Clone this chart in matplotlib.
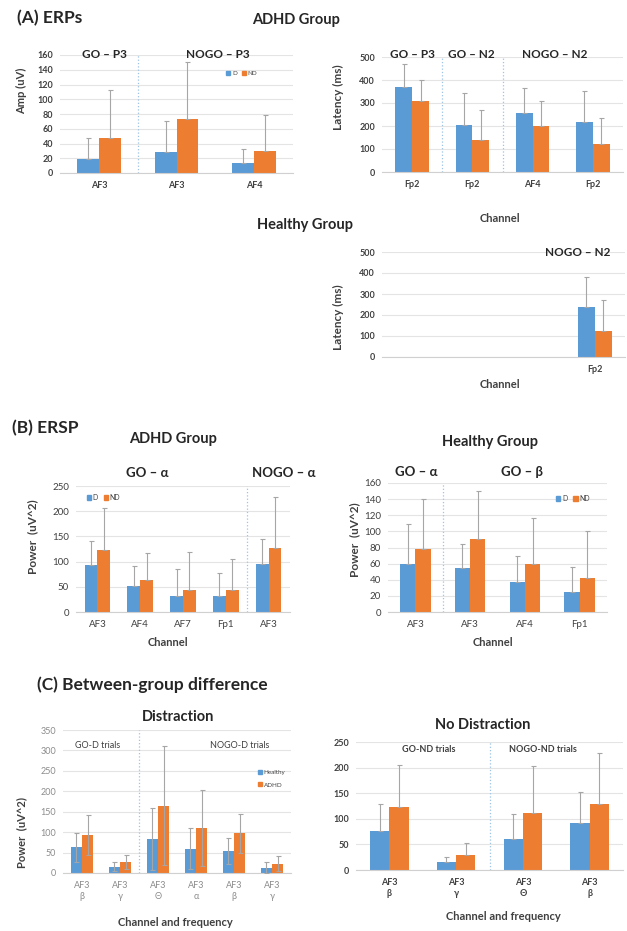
import numpy as np
import matplotlib.pyplot as plt
from matplotlib.patches import Patch

plt.rcParams['font.family'] = ['Lato', 'DejaVu Sans']

W, H = 627, 931
BLUE = "#5B9BD5"
ORANGE = "#ED7D31"
ERR = "#A6A6A6"
GRID = "#E4E4E4"
DOT = "#9DC3E6"
TXT = "#404040"

# ---- (A) ERPs, ADHD group: amplitude
amp_labels = ["AF3", "AF3", "AF4"]
amp_d = [19, 29, 13]
amp_nd = [48, 73, 30]
amp_d_err = [29, 41, 19]
amp_nd_err = [65, 77, 48]

# ---- (A) ERPs, ADHD group: latency
lat_labels = ["Fp2", "Fp2", "AF4", "Fp2"]
lat_d = [370, 205, 258, 216]
lat_nd = [310, 137, 199, 121]
lat_d_err = [100, 140, 107, 136]
lat_nd_err = [90, 133, 111, 114]

# ---- (A) ERPs, healthy group: latency (only the 4th slot is filled)
hl_labels = ["", "", "", "Fp2"]
hl_d = [0, 0, 0, 238]
hl_nd = [0, 0, 0, 122]
hl_d_err = [0, 0, 0, 142]
hl_nd_err = [0, 0, 0, 148]

# ---- (B) ERSP, ADHD group
ba_labels = ["AF3", "AF4", "AF7", "Fp1", "AF3"]
ba_d = [94, 52, 32, 32, 96]
ba_nd = [123, 63, 44, 44, 126]
ba_d_err = [46, 40, 53, 45, 49]
ba_nd_err = [83, 54, 75, 61, 102]

# ---- (B) ERSP, healthy group
bh_labels = ["AF3", "AF3", "AF4", "Fp1"]
bh_d = [59, 54, 37, 25]
bh_nd = [78, 90, 60, 42]
bh_d_err = [50, 30, 32, 31]
bh_nd_err = [62, 60, 56, 59]

# ---- (C) Between-group, distraction
cd_labels = ["AF3\nβ", "AF3\nγ", "AF3\nΘ", "AF3\nα", "AF3\nβ", "AF3\nγ"]
cd_h = [63, 15, 83, 59, 53, 13]
cd_a = [94, 27, 165, 111, 97, 23]
cd_h_err = [36, 11, 76, 50, 32, 14]
cd_a_err = [49, 18, 146, 93, 47, 18]

# ---- (C) Between-group, no distraction
cn_labels = ["AF3\nβ", "AF3\nγ", "AF3\nΘ", "AF3\nβ"]
cn_h = [77, 16, 60, 92]
cn_a = [123, 29, 112, 129]
cn_h_err = [52, 10, 50, 61]
cn_a_err = [83, 23, 91, 100]

fig = plt.figure(figsize=(W / 100, H / 100), dpi=100)


def ax_at(l, t, r, b):
    return fig.add_axes([l / W, 1 - b / H, (r - l) / W, (b - t) / H])


def ftext(x, y, s, ha="center", **kw):
    fig.text(x / W, 1 - y / H, s, ha=ha, va="center", **kw)


def bars(ax, labels, v1, v2, e1, e2, ymax, step, both=False, width=0.28,
         tick_size=6.5, tick_color=TXT, ybold=True, xbold=True, seps=()):
    x = np.arange(len(labels))
    for xs, v, e, c in [(x - width / 2, v1, e1, BLUE), (x + width / 2, v2, e2, ORANGE)]:
        ax.bar(xs, v, width, color=c, zorder=2)
        lower = e if both else [0] * len(e)
        keep = [i for i in range(len(v)) if v[i] > 0]
        ax.errorbar(xs[keep], np.array(v)[keep],
                    yerr=[np.array(lower)[keep], np.array(e)[keep]],
                    fmt="none", ecolor=ERR, elinewidth=0.8, capsize=1.8,
                    capthick=0.8, zorder=3)
    ax.set_xlim(-0.5, len(labels) - 0.5)
    ax.set_ylim(0, ymax)
    ax.set_yticks(np.arange(0, ymax + 1, step))
    ax.set_xticks(x)
    ax.set_xticklabels(labels, fontsize=tick_size, color=tick_color,
                       fontweight="bold" if xbold else "normal")
    for t in ax.get_yticklabels():
        t.set_fontsize(tick_size)
        t.set_color(tick_color)
        t.set_fontweight("bold" if ybold else "normal")
    ax.grid(axis="y", color=GRID, linewidth=0.8, zorder=0)
    ax.set_axisbelow(True)
    for s in ["top", "right", "left"]:
        ax.spines[s].set_visible(False)
    ax.spines["bottom"].set_color("#D0D0D0")
    ax.tick_params(axis="x", length=0, pad=6)
    ax.tick_params(axis="y", length=0, pad=5)
    for s in seps:
        ax.axvline(s, color=DOT, linestyle=":", linewidth=0.9, zorder=1)


def legend(ax, names, x, y, ncol=2, size=4.5):
    h = [Patch(color=BLUE), Patch(color=ORANGE)]
    ax.legend(h, names, loc="center left", bbox_to_anchor=(x, y), ncol=ncol,
              frameon=False, fontsize=size, handlelength=0.6, handleheight=0.6,
              handletextpad=0.3, columnspacing=0.8, labelspacing=1.2,
              labelcolor=TXT)


# ================= (A) ERPs =================
ftext(17, 18, "(A) ERPs", ha="left", fontsize=12.5, fontweight="bold", color="#262626")
ftext(296, 20, "ADHD Group", fontsize=10.5, fontweight="bold", color="#262626")

ax = ax_at(60, 55, 293, 173)
bars(ax, amp_labels, amp_d, amp_nd, amp_d_err, amp_nd_err, 160, 20, seps=[0.5])
legend(ax, ["D", "ND"], 0.69, 0.84)
ftext(104, 55, "GO – P3", fontsize=8.5, fontweight="bold", color="#262626")
ftext(218, 55, "NOGO – P3", fontsize=8.5, fontweight="bold", color="#262626")
ftext(22, 91, "Amp (uV)", rotation=90, fontsize=8, fontweight="bold", color=TXT)

ax = ax_at(382, 57, 623, 172)
bars(ax, lat_labels, lat_d, lat_nd, lat_d_err, lat_nd_err, 500, 100, seps=[0.5, 1.5])
ftext(412, 55, "GO – P3", fontsize=8.5, fontweight="bold", color="#262626")
ftext(471, 55, "GO – N2", fontsize=8.5, fontweight="bold", color="#262626")
ftext(555, 55, "NOGO – N2", fontsize=8.5, fontweight="bold", color="#262626")
ftext(338, 97, "Latency (ms)", rotation=90, fontsize=8.5, fontweight="bold", color=TXT)
ftext(500, 218, "Channel", fontsize=8, fontweight="bold", color=TXT)

ftext(305, 225, "Healthy Group", fontsize=10.5, fontweight="bold", color="#262626")
ax = ax_at(382, 252, 625, 357)
bars(ax, hl_labels, hl_d, hl_nd, hl_d_err, hl_nd_err, 500, 100)
ftext(578, 252, "NOGO – N2", fontsize=8.5, fontweight="bold", color="#262626")
ftext(338, 317, "Latency (ms)", rotation=90, fontsize=8.5, fontweight="bold", color=TXT)
ftext(500, 385, "Channel", fontsize=8, fontweight="bold", color=TXT)

# ================= (B) ERSP =================
ftext(12, 428, "(B) ERSP", ha="left", fontsize=12.5, fontweight="bold", color="#262626")

ftext(173, 439, "ADHD Group", fontsize=10.5, fontweight="bold", color="#262626")
ax = ax_at(76, 486, 290, 612)
bars(ax, ba_labels, ba_d, ba_nd, ba_d_err, ba_nd_err, 250, 50, width=0.3,
     tick_size=7, ybold=False, xbold=False, seps=[3.5])
legend(ax, ["D", "ND"], 0.02, 0.91, size=5)
ftext(147, 473, "GO – α", fontsize=9.5, fontweight="bold", color="#262626")
ftext(284, 473, "NOGO – α", fontsize=9.5, fontweight="bold", color="#262626")
ftext(33, 537, "Power  (uV^2)", rotation=90, fontsize=8.5, fontweight="bold", color=TXT)
ftext(168, 643, "Channel", fontsize=8, fontweight="bold", color=TXT)

ftext(490, 442, "Healthy Group", fontsize=10.5, fontweight="bold", color="#262626")
ax = ax_at(388, 483, 607, 612)
bars(ax, bh_labels, bh_d, bh_nd, bh_d_err, bh_nd_err, 160, 20,
     tick_size=7, ybold=False, xbold=False, seps=[0.5])
legend(ax, ["D", "ND"], 0.74, 0.88, size=5)
ftext(416, 472, "GO – α", fontsize=9.5, fontweight="bold", color="#262626")
ftext(522, 472, "GO – β", fontsize=9.5, fontweight="bold", color="#262626")
ftext(355, 540, "Power  (uV^2)", rotation=90, fontsize=8.5, fontweight="bold", color=TXT)
ftext(493, 643, "Channel", fontsize=8, fontweight="bold", color=TXT)

# ================= (C) Between-group =================
ftext(37, 685, "(C) Between-group difference", ha="left", fontsize=12.5,
      fontweight="bold", color="#262626")

ftext(178, 717, "Distraction", fontsize=10.5, fontweight="bold", color="#262626")
ax = ax_at(63, 730, 291, 873)
bars(ax, cd_labels, cd_h, cd_a, cd_h_err, cd_a_err, 350, 50, both=True, width=0.29,
     tick_size=6.5, tick_color="#8C8C8C", ybold=False, xbold=False, seps=[1.5])
legend(ax, ["Healthy", "ADHD"], 0.83, 0.66, ncol=1, size=4.5)
ftext(98, 745, "GO-D trials", fontsize=6.5, color="#404040")
ftext(240, 745, "NOGO-D trials", fontsize=6.5, color="#404040")
ftext(22, 832, "Power  (uV^2)", rotation=90, fontsize=8, fontweight="bold", color=TXT)
ftext(175, 923, "Channel and frequency", fontsize=8, fontweight="bold", color=TXT)

ftext(483, 725, "No Distraction", fontsize=10.5, fontweight="bold", color="#262626")
ax = ax_at(356, 742, 623, 870)
bars(ax, cn_labels, cn_h, cn_a, cn_h_err, cn_a_err, 250, 50, width=0.29,
     tick_size=6.5, seps=[1.5])
ftext(429, 750, "GO-ND trials", fontsize=6.5, fontweight="bold", color=TXT)
ftext(543, 750, "NOGO-ND trials", fontsize=6.5, fontweight="bold", color=TXT)
ftext(503, 916, "Channel and frequency", fontsize=8, fontweight="bold", color=TXT)

fig.savefig("out.png", dpi=100)
